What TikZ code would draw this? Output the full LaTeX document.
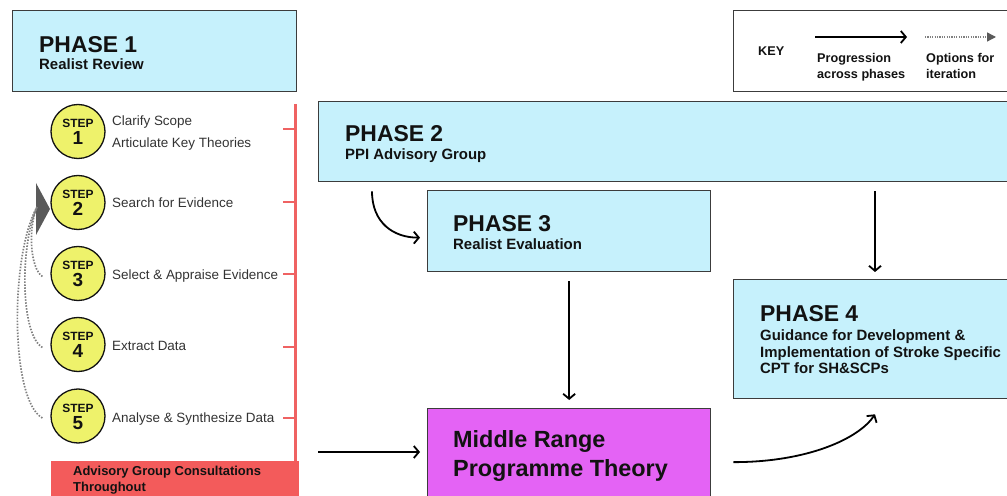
\documentclass[tikz,border=0pt]{standalone}
\usepackage{fontspec}
\setmainfont{Liberation Sans}
\usetikzlibrary{arrows.meta,calc}

\definecolor{phasecyan}{HTML}{C6F1FC}
\definecolor{boxline}{HTML}{3C3C3C}
\definecolor{stepyellow}{HTML}{EEF26B}
\definecolor{mrptpink}{HTML}{E463F5}
\definecolor{advred}{HTML}{F35B5B}
\definecolor{railred}{HTML}{EF6262}
\definecolor{ink}{HTML}{121212}
\definecolor{steptext}{HTML}{333333}
\definecolor{iterline}{HTML}{808080}
\definecolor{iterhead}{HTML}{5A5A5A}

\newcommand{\fs}[1]{\fontsize{#1}{#1}\selectfont}

\begin{document}
\begin{tikzpicture}[x=1bp,y=-1bp,
  box/.style={draw=boxline,line width=1.3bp,rectangle,inner sep=0,anchor=north west},
  phasebox/.style={box,fill=phasecyan},
  title/.style={anchor=base west,inner sep=0,text=ink,font=\fs{23}\bfseries},
  subtitle/.style={anchor=base west,inner sep=0,text=ink,font=\fs{15}\bfseries},
  keytext/.style={anchor=base west,inner sep=0,text=ink,font=\fs{12.7}\bfseries},
  stepdisc/.style={circle,fill=stepyellow,draw=ink,line width=1.3bp,minimum size=54bp,inner sep=0},
  stepword/.style={anchor=base,inner sep=0,text=ink,font=\fs{12}\bfseries},
  stepnum/.style={anchor=base,inner sep=0,text=ink,font=\fs{19}\bfseries},
  steplabel/.style={anchor=base west,inner sep=0,text=steptext,font=\fs{13.5}},
  rail/.style={draw=railred,line width=2.4bp},
  prog/.style={draw=black,line width=1.8bp,-{Straight Barb[length=5bp,width=12bp]}},
  iter/.style={draw=iterline,line width=1.7bp,dash pattern=on 1.5bp off 1.5bp},
]
\useasboundingbox (0,0) rectangle (1007,496);
\clip (0,0) rectangle (1007,496);

% ---------- Phase 1 and its steps ----------
\node[phasebox,minimum width=284bp,minimum height=81bp] (p1) at (12,10) {};
\node[title] (p1t) at (39,53) {PHASE 1};
\node[subtitle] (p1s) at (39,70) {Realist Review};

\foreach \n/\cy in {1/131.5,2/202.5,3/273.5,4/344.5,5/416} {
  \node[stepdisc] (s\n) at (78,\cy) {};
  \node[stepword] (s\n w) at ($(s\n.center)+(0,-4)$) {STEP};
  \node[stepnum] (s\n n) at ($(s\n.center)+(0,13)$) {\n};
}
\node[steplabel] (l1a) at (112,126) {Clarify Scope};
\node[steplabel] (l1b) at (112,148) {Articulate Key Theories};
\node[steplabel] (l2) at (112,208) {Search for Evidence};
\node[steplabel] (l3) at (112,279.5) {Select \& Appraise Evidence};
\node[steplabel] (l4) at (112,350.5) {Extract Data};
\node[steplabel] (l5) at (112,422) {Analyse \& Synthesize Data};

% red bracket of advisory group consultations
\coordinate (railtop) at (295.5,104);
\coordinate (railbot) at (295.5,462);
\draw[rail] (railtop) -- (railbot);
\foreach \ty in {129,202,274,347,418}
  \draw[rail] (283,\ty) -- (295.5,\ty);

\node[box,draw=none,fill=advred,minimum width=248bp,minimum height=40bp] (adv) at (50,460) {};
\node[anchor=base west,inner sep=0,text=ink,font=\fs{13}\bfseries] (adv1) at (73,475) {Advisory Group Consultations};
\node[anchor=base west,inner sep=0,text=ink,font=\fs{13}\bfseries] (adv2) at (73,491) {Throughout};

% iteration loops back to step 2
\coordinate (loop) at (37,207);
\fill[iterhead] (36,183) -- (50,209) -- (36,235) -- cycle;
\draw[iter] ($(s3.west)+(-8,3)$) .. controls (30,268) and (28,228) .. (loop);
\draw[iter] ($(s4.west)+(-8,3)$) .. controls (20,334) and (20,245) .. (loop);
\draw[iter] ($(s5.west)+(-8,2)$) .. controls (10,400) and (10,255) .. (loop);

% ---------- Phases 2 to 4 ----------
\node[phasebox,minimum width=720bp,minimum height=80bp] (p2) at (318,101) {};
\node[title] (p2t) at (345,142) {PHASE 2};
\node[subtitle] (p2s) at (345,160) {PPI Advisory Group};

\node[phasebox,minimum width=283bp,minimum height=81bp] (p3) at (427,190) {};
\node[title] (p3t) at (453,232) {PHASE 3};
\node[subtitle] (p3s) at (453,250) {Realist Evaluation};

\node[phasebox,minimum width=300bp,minimum height=119bp] (p4) at (733,279) {};
\node[title] (p4t) at (760,322) {PHASE 4};
\node[subtitle] (p4s1) at (760,341) {Guidance for Development \&};
\node[subtitle] (p4s2) at (760,357.5) {Implementation of Stroke Specific};
\node[subtitle] (p4s3) at (760,374) {CPT for SH\&SCPs};

\node[box,fill=mrptpink,minimum width=283bp,minimum height=88bp] (mrpt) at (427,408) {};
\node[anchor=base west,inner sep=0,text=ink,font=\fs{23.5}\bfseries] (mrpt1) at (453,447) {Middle Range};
\node[anchor=base west,inner sep=0,text=ink,font=\fs{23.5}\bfseries] (mrpt2) at (453,476) {Programme Theory};

% ---------- progression arrows ----------
\coordinate (p4in) at ($(p4.north west)+(142,-7)$);
\coordinate (feed) at (318,452);
\draw[prog] ($(p2.south west)+(54,9)$) .. controls +(0,32) and +(-26,0) .. ($(p3.west)+(-7,6.5)$);
\draw[prog] ([yshift=-9bp]p2.south -| p4in) -- (p4in);
\draw[prog] ([yshift=-9bp]p3.south) -- ([yshift=8bp]mrpt.north);
\draw[prog] (feed) -- ([xshift=-7bp]mrpt.west |- feed);
\draw[prog] ($(mrpt.east)+(22,9.5)$) .. controls +(75,0) and +(-16,24) .. ($(p4.south west)+(142,15)$);

% ---------- key ----------
\node[box,fill=white,minimum width=300bp,minimum height=81bp] (key) at (733,10) {};
\node[keytext] (keyt) at (758,56) {KEY};
\coordinate (ka) at (815,37);
\coordinate (kb) at (907,37);
\draw[prog] (ka) -- (kb);
\node[keytext] (k1a) at (817,63) {Progression};
\node[keytext] (k1b) at (817,79) {across phases};
\coordinate (kc) at (925,37);
\coordinate (kd) at (996,37);
\draw[draw=iterline,line width=1.3bp,dash pattern=on 1.2bp off 1.2bp,-{Triangle[length=9bp,width=9bp,color=iterhead]}] (kc) -- (kd);
\node[keytext] (k2a) at (926,63) {Options for};
\node[keytext] (k2b) at (926,79) {iteration};
\end{tikzpicture}
\end{document}
